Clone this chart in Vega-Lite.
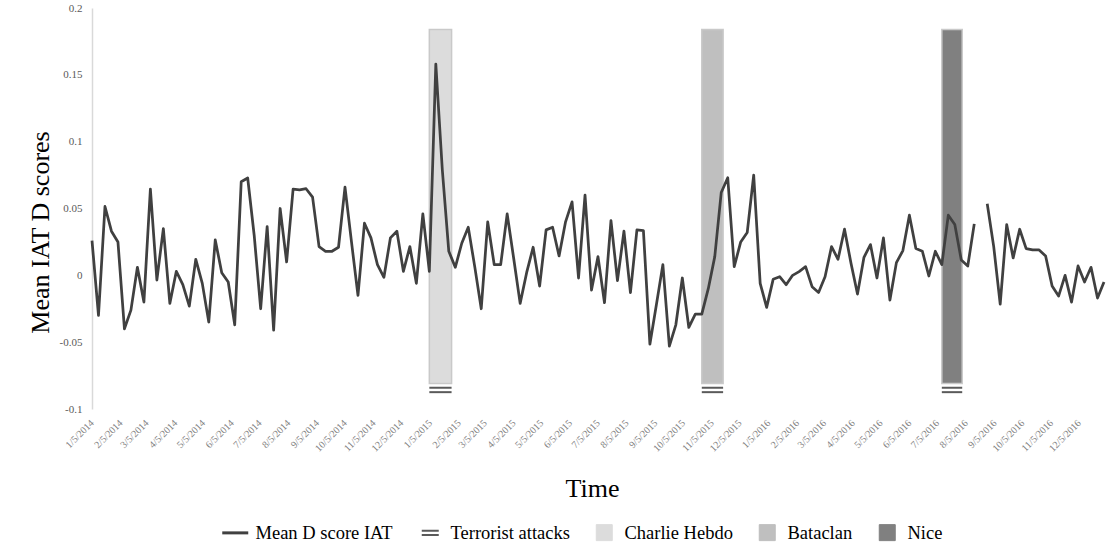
{
  "$schema": "https://vega.github.io/schema/vega-lite/v6.json",
  "width": 1012,
  "height": 401,
  "autosize": {"type": "none"},
  "padding": {"left": 92, "top": 8, "right": 3, "bottom": 140},
  "background": "white",
  "config": {
    "view": {"stroke": null},
    "font": "Liberation Serif",
    "axis": {"labelOverlap": false, "labelSeparation": 0}
  },
  "datasets": {
    "events": [
      {"event": "Charlie Hebdo", "start": "2015-01-04", "end": "2015-01-28", "top": 0.184, "bottom": -0.081},
      {"event": "Bataclan", "start": "2015-10-25", "end": "2015-11-17", "top": 0.184, "bottom": -0.081},
      {"event": "Nice", "start": "2016-07-10", "end": "2016-08-01", "top": 0.184, "bottom": -0.081}
    ],
    "iat": [
      {"date": "2014-01-05", "d": 0.026},
      {"date": "2014-01-12", "d": -0.030},
      {"date": "2014-01-19", "d": 0.0515},
      {"date": "2014-01-26", "d": 0.033},
      {"date": "2014-02-02", "d": 0.025},
      {"date": "2014-02-09", "d": -0.040},
      {"date": "2014-02-16", "d": -0.026},
      {"date": "2014-02-23", "d": 0.006},
      {"date": "2014-03-02", "d": -0.020},
      {"date": "2014-03-09", "d": 0.0645},
      {"date": "2014-03-16", "d": -0.0035},
      {"date": "2014-03-23", "d": 0.035},
      {"date": "2014-03-30", "d": -0.021},
      {"date": "2014-04-06", "d": 0.003},
      {"date": "2014-04-13", "d": -0.007},
      {"date": "2014-04-20", "d": -0.023},
      {"date": "2014-04-27", "d": 0.012},
      {"date": "2014-05-04", "d": -0.006},
      {"date": "2014-05-11", "d": -0.035},
      {"date": "2014-05-18", "d": 0.0265},
      {"date": "2014-05-25", "d": 0.002},
      {"date": "2014-06-01", "d": -0.005},
      {"date": "2014-06-08", "d": -0.037},
      {"date": "2014-06-15", "d": 0.070},
      {"date": "2014-06-22", "d": 0.0728},
      {"date": "2014-06-29", "d": 0.030},
      {"date": "2014-07-06", "d": -0.025},
      {"date": "2014-07-13", "d": 0.0365},
      {"date": "2014-07-20", "d": -0.041},
      {"date": "2014-07-27", "d": 0.050},
      {"date": "2014-08-03", "d": 0.010},
      {"date": "2014-08-10", "d": 0.0645},
      {"date": "2014-08-17", "d": 0.064},
      {"date": "2014-08-24", "d": 0.0648},
      {"date": "2014-08-31", "d": 0.0585},
      {"date": "2014-09-07", "d": 0.0215},
      {"date": "2014-09-14", "d": 0.018},
      {"date": "2014-09-21", "d": 0.018},
      {"date": "2014-09-28", "d": 0.021},
      {"date": "2014-10-05", "d": 0.066},
      {"date": "2014-10-12", "d": 0.025},
      {"date": "2014-10-19", "d": -0.015},
      {"date": "2014-10-26", "d": 0.039},
      {"date": "2014-11-02", "d": 0.028},
      {"date": "2014-11-09", "d": 0.008},
      {"date": "2014-11-16", "d": -0.0015},
      {"date": "2014-11-23", "d": 0.028},
      {"date": "2014-11-30", "d": 0.033},
      {"date": "2014-12-07", "d": 0.003},
      {"date": "2014-12-14", "d": 0.0215},
      {"date": "2014-12-21", "d": -0.006},
      {"date": "2014-12-28", "d": 0.046},
      {"date": "2015-01-04", "d": 0.003},
      {"date": "2015-01-11", "d": 0.158},
      {"date": "2015-01-18", "d": 0.079},
      {"date": "2015-01-25", "d": 0.018},
      {"date": "2015-02-01", "d": 0.006},
      {"date": "2015-02-08", "d": 0.024},
      {"date": "2015-02-15", "d": 0.036},
      {"date": "2015-02-22", "d": 0.0065},
      {"date": "2015-03-01", "d": -0.025},
      {"date": "2015-03-08", "d": 0.040},
      {"date": "2015-03-15", "d": 0.008},
      {"date": "2015-03-22", "d": 0.008},
      {"date": "2015-03-29", "d": 0.046},
      {"date": "2015-04-05", "d": 0.0128},
      {"date": "2015-04-12", "d": -0.021},
      {"date": "2015-04-19", "d": 0.002},
      {"date": "2015-04-26", "d": 0.021},
      {"date": "2015-05-03", "d": -0.008},
      {"date": "2015-05-10", "d": 0.034},
      {"date": "2015-05-17", "d": 0.036},
      {"date": "2015-05-24", "d": 0.0145},
      {"date": "2015-05-31", "d": 0.040},
      {"date": "2015-06-07", "d": 0.055},
      {"date": "2015-06-14", "d": -0.002},
      {"date": "2015-06-21", "d": 0.060},
      {"date": "2015-06-28", "d": -0.011},
      {"date": "2015-07-05", "d": 0.014},
      {"date": "2015-07-12", "d": -0.0205},
      {"date": "2015-07-19", "d": 0.041},
      {"date": "2015-07-26", "d": -0.004},
      {"date": "2015-08-02", "d": 0.033},
      {"date": "2015-08-09", "d": -0.013},
      {"date": "2015-08-16", "d": 0.034},
      {"date": "2015-08-23", "d": 0.0335},
      {"date": "2015-08-30", "d": -0.0515},
      {"date": "2015-09-06", "d": -0.022},
      {"date": "2015-09-13", "d": 0.008},
      {"date": "2015-09-20", "d": -0.053},
      {"date": "2015-09-27", "d": -0.037},
      {"date": "2015-10-04", "d": -0.002},
      {"date": "2015-10-11", "d": -0.039},
      {"date": "2015-10-18", "d": -0.029},
      {"date": "2015-10-25", "d": -0.029},
      {"date": "2015-11-01", "d": -0.010},
      {"date": "2015-11-08", "d": 0.014},
      {"date": "2015-11-15", "d": 0.062},
      {"date": "2015-11-22", "d": 0.073},
      {"date": "2015-11-29", "d": 0.0065},
      {"date": "2015-12-06", "d": 0.025},
      {"date": "2015-12-13", "d": 0.032},
      {"date": "2015-12-20", "d": 0.075},
      {"date": "2015-12-27", "d": -0.006},
      {"date": "2016-01-03", "d": -0.024},
      {"date": "2016-01-10", "d": -0.003},
      {"date": "2016-01-17", "d": -0.001},
      {"date": "2016-01-24", "d": -0.007},
      {"date": "2016-01-31", "d": 0.0},
      {"date": "2016-02-07", "d": 0.0028},
      {"date": "2016-02-14", "d": 0.0065},
      {"date": "2016-02-21", "d": -0.0085},
      {"date": "2016-02-28", "d": -0.0128},
      {"date": "2016-03-06", "d": -0.001},
      {"date": "2016-03-13", "d": 0.0215},
      {"date": "2016-03-20", "d": 0.012},
      {"date": "2016-03-27", "d": 0.0345},
      {"date": "2016-04-03", "d": 0.009},
      {"date": "2016-04-10", "d": -0.014},
      {"date": "2016-04-17", "d": 0.0135},
      {"date": "2016-04-24", "d": 0.023},
      {"date": "2016-05-01", "d": -0.002},
      {"date": "2016-05-08", "d": 0.028},
      {"date": "2016-05-15", "d": -0.0185},
      {"date": "2016-05-22", "d": 0.0095},
      {"date": "2016-05-29", "d": 0.0185},
      {"date": "2016-06-05", "d": 0.045},
      {"date": "2016-06-12", "d": 0.020},
      {"date": "2016-06-19", "d": 0.018},
      {"date": "2016-06-26", "d": -0.0005},
      {"date": "2016-07-03", "d": 0.018},
      {"date": "2016-07-10", "d": 0.008},
      {"date": "2016-07-17", "d": 0.045},
      {"date": "2016-07-24", "d": 0.038},
      {"date": "2016-07-31", "d": 0.0115},
      {"date": "2016-08-07", "d": 0.007},
      {"date": "2016-08-14", "d": 0.0385},
      {"date": "2016-08-21", "d": null},
      {"date": "2016-08-28", "d": 0.0535},
      {"date": "2016-09-04", "d": 0.0215},
      {"date": "2016-09-11", "d": -0.0215},
      {"date": "2016-09-18", "d": 0.038},
      {"date": "2016-09-25", "d": 0.013},
      {"date": "2016-10-02", "d": 0.0345},
      {"date": "2016-10-09", "d": 0.020},
      {"date": "2016-10-16", "d": 0.019},
      {"date": "2016-10-23", "d": 0.019},
      {"date": "2016-10-30", "d": 0.0145},
      {"date": "2016-11-06", "d": -0.008},
      {"date": "2016-11-13", "d": -0.0155},
      {"date": "2016-11-20", "d": 0.0},
      {"date": "2016-11-27", "d": -0.020},
      {"date": "2016-12-04", "d": 0.007},
      {"date": "2016-12-11", "d": -0.005},
      {"date": "2016-12-18", "d": 0.006},
      {"date": "2016-12-25", "d": -0.017},
      {"date": "2017-01-01", "d": -0.005}
    ]
  },
  "layer": [
    {
      "data": {"name": "events"},
      "mark": {"type": "rect", "stroke": "#c9c9c9", "strokeWidth": 1.5},
      "encoding": {
        "x": {
          "field": "start",
          "type": "temporal",
          "title": "Time",
          "scale": {
            "type": "utc",
            "nice": false,
            "domain": [
              {"year": 2014, "month": 1, "date": 5, "utc": true},
              {"year": 2017, "month": 1, "date": 1, "utc": true}
            ]
          },
          "axis": {
            "values": [
              {"year": 2014, "month": 1, "date": 5, "utc": true},
              {"year": 2014, "month": 2, "date": 5, "utc": true},
              {"year": 2014, "month": 3, "date": 5, "utc": true},
              {"year": 2014, "month": 4, "date": 5, "utc": true},
              {"year": 2014, "month": 5, "date": 5, "utc": true},
              {"year": 2014, "month": 6, "date": 5, "utc": true},
              {"year": 2014, "month": 7, "date": 5, "utc": true},
              {"year": 2014, "month": 8, "date": 5, "utc": true},
              {"year": 2014, "month": 9, "date": 5, "utc": true},
              {"year": 2014, "month": 10, "date": 5, "utc": true},
              {"year": 2014, "month": 11, "date": 5, "utc": true},
              {"year": 2014, "month": 12, "date": 5, "utc": true},
              {"year": 2015, "month": 1, "date": 5, "utc": true},
              {"year": 2015, "month": 2, "date": 5, "utc": true},
              {"year": 2015, "month": 3, "date": 5, "utc": true},
              {"year": 2015, "month": 4, "date": 5, "utc": true},
              {"year": 2015, "month": 5, "date": 5, "utc": true},
              {"year": 2015, "month": 6, "date": 5, "utc": true},
              {"year": 2015, "month": 7, "date": 5, "utc": true},
              {"year": 2015, "month": 8, "date": 5, "utc": true},
              {"year": 2015, "month": 9, "date": 5, "utc": true},
              {"year": 2015, "month": 10, "date": 5, "utc": true},
              {"year": 2015, "month": 11, "date": 5, "utc": true},
              {"year": 2015, "month": 12, "date": 5, "utc": true},
              {"year": 2016, "month": 1, "date": 5, "utc": true},
              {"year": 2016, "month": 2, "date": 5, "utc": true},
              {"year": 2016, "month": 3, "date": 5, "utc": true},
              {"year": 2016, "month": 4, "date": 5, "utc": true},
              {"year": 2016, "month": 5, "date": 5, "utc": true},
              {"year": 2016, "month": 6, "date": 5, "utc": true},
              {"year": 2016, "month": 7, "date": 5, "utc": true},
              {"year": 2016, "month": 8, "date": 5, "utc": true},
              {"year": 2016, "month": 9, "date": 5, "utc": true},
              {"year": 2016, "month": 10, "date": 5, "utc": true},
              {"year": 2016, "month": 11, "date": 5, "utc": true},
              {"year": 2016, "month": 12, "date": 5, "utc": true}
            ],
            "tickCount": 200,
            "labelExpr": "utcFormat(datum.value, '%-m/%-d/%Y')",
            "domain": false,
            "ticks": false,
            "grid": false,
            "labelAngle": -45,
            "labelAlign": "right",
            "labelBaseline": "middle",
            "labelPadding": 12,
            "labelFont": "Liberation Serif",
            "labelFontSize": 10,
            "labelColor": "#7f7f7f",
            "labelOverlap": false,
            "labelSeparation": 0,
            "labelFlush": false,
            "labelBound": false,
            "titleFont": "Liberation Serif",
            "titleFontSize": 26,
            "titleFontWeight": "normal",
            "titleColor": "#000000",
            "titleX": 500,
            "titleY": 87,
            "titleAlign": "center",
            "titleBaseline": "alphabetic"
          }
        },
        "x2": {"field": "end"},
        "y": {
          "field": "top",
          "type": "quantitative",
          "title": "Mean IAT D scores",
          "scale": {"domain": [-0.1, 0.2], "nice": false, "zero": false},
          "axis": {
            "values": [-0.1, -0.05, 0, 0.05, 0.1, 0.15, 0.2],
            "format": "",
            "labelExpr": "replace(format(datum.value, ''), '\u2212', '-')",
            "domainColor": "#d9d9d9",
            "domainWidth": 1.5,
            "ticks": false,
            "grid": false,
            "labelPadding": 10,
            "labelFont": "Liberation Serif",
            "labelFontSize": 11,
            "labelColor": "#595959",
            "titleFont": "Liberation Serif",
            "titleFontSize": 26,
            "titleFontWeight": "normal",
            "titleColor": "#000000",
            "titleAngle": 270,
            "titleX": -52,
            "titleY": 224,
            "titleAlign": "center",
            "titleBaseline": "middle"
          }
        },
        "y2": {"field": "bottom"},
        "color": {
          "field": "event",
          "type": "nominal",
          "title": null,
          "scale": {
            "domain": ["Mean D score IAT", "Terrorist attacks", "Charlie Hebdo", "Bataclan", "Nice"],
            "range": ["#404040", "#5a5a5a", "#dcdcdc", "#bfbfbf", "#808080"]
          }
        }
      }
    },
    {
      "data": {"name": "events"},
      "mark": {"type": "rule", "color": "#5a5a5a", "strokeWidth": 2},
      "encoding": {
        "x": {"field": "start", "type": "temporal", "title": "Time"},
        "x2": {"field": "end"},
        "y": {"datum": -0.0841, "type": "quantitative", "title": "Mean IAT D scores"}
      }
    },
    {
      "data": {"name": "events"},
      "mark": {"type": "rule", "color": "#5a5a5a", "strokeWidth": 2},
      "encoding": {
        "x": {"field": "start", "type": "temporal", "title": "Time"},
        "x2": {"field": "end"},
        "y": {"datum": -0.0874, "type": "quantitative", "title": "Mean IAT D scores"}
      }
    },
    {
      "mark": {"type": "rule", "color": "#d9d9d9", "strokeWidth": 1.5},
      "encoding": {
        "y": {"datum": 0, "type": "quantitative", "title": "Mean IAT D scores"}
      }
    },
    {
      "data": {"name": "iat"},
      "mark": {"type": "line", "strokeWidth": 2.75, "invalid": "break-paths-show-domains", "strokeJoin": "round"},
      "encoding": {
        "x": {"field": "date", "type": "temporal", "title": "Time"},
        "y": {"field": "d", "type": "quantitative", "title": "Mean IAT D scores"},
        "color": {
          "datum": "Mean D score IAT",
          "type": "nominal",
          "title": null,
          "legend": {
            "title": null,
            "orient": "none",
            "direction": "horizontal",
            "legendX": 134,
            "legendY": 515,
            "columnPadding": 24,
            "labelOffset": 11,
            "labelFont": "Liberation Serif",
            "labelFontSize": 18.5,
            "labelColor": "#000000",
            "labelLimit": 300,
            "symbolSize": 676,
            "encode": {
              "symbols": {
                "update": {
                  "shape": {"signal": "datum.value === 'Mean D score IAT' ? 'stroke' : datum.value === 'Terrorist attacks' ? 'M-1,-0.26H1M-1,0.26H1' : 'square'"},
                  "size": {"signal": "datum.value === 'Mean D score IAT' ? 676 : datum.value === 'Terrorist attacks' ? 289 : 256"},
                  "fill": {"signal": "datum.value === 'Charlie Hebdo' ? '#dcdcdc' : datum.value === 'Bataclan' ? '#bfbfbf' : datum.value === 'Nice' ? '#808080' : 'transparent'"},
                  "stroke": {"signal": "datum.value === 'Mean D score IAT' ? '#404040' : datum.value === 'Terrorist attacks' ? '#5a5a5a' : '#d0d0d0'"},
                  "strokeWidth": {"signal": "datum.value === 'Mean D score IAT' ? 3 : datum.value === 'Terrorist attacks' ? 2 : 1"},
                  "opacity": {"value": 1}
                }
              }
            }
          }
        }
      }
    }
  ]
}
